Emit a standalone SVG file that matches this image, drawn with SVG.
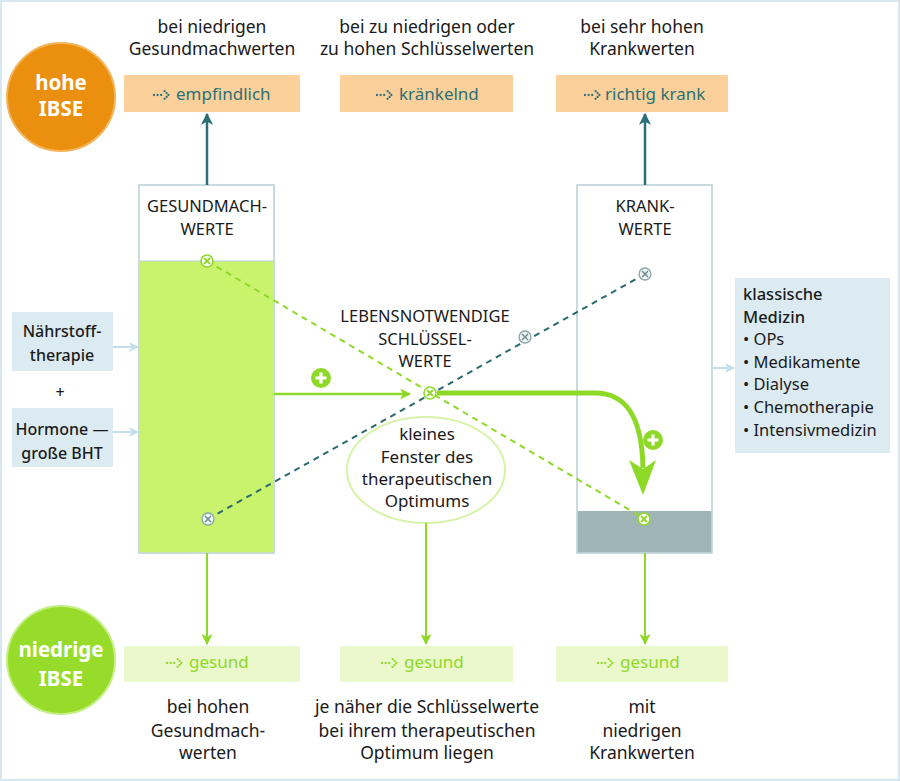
<svg xmlns="http://www.w3.org/2000/svg" width="900" height="781" viewBox="0 0 900 781">
<style>
text{font-family:"Noto Sans","Open Sans","DejaVu Sans",sans-serif;fill:#1a1a1a}
.h{font-size:17.5px;text-anchor:middle}
.cap{font-size:16.5px;text-anchor:middle}
.lbl{font-size:17px}
.teal{fill:#2b7076}
.grn{fill:#8ed928}
.wh{fill:#fff;font-weight:bold;font-size:20.5px;text-anchor:middle}
.lb{font-size:16px;text-anchor:middle;font-weight:500}
.med{font-size:16.5px}
.el{font-size:17px;text-anchor:middle}
</style>
<defs>
<g id="dots">
<circle cx="0" cy="0" r="1.15"/><circle cx="3.6" cy="0" r="1.15"/><circle cx="7.2" cy="0" r="1.15"/>
<circle cx="10.6" cy="-3.8" r="1.15"/><circle cx="12.6" cy="-1.9" r="1.15"/><circle cx="14.4" cy="0" r="1.15"/><circle cx="12.6" cy="1.9" r="1.15"/><circle cx="10.6" cy="3.8" r="1.15"/>
</g>
<marker id="aGrn" viewBox="0 0 10 10" refX="9" refY="5" markerWidth="11" markerHeight="11" orient="auto" markerUnits="userSpaceOnUse">
<path d="M0,0 L10,5 L0,10 L2.5,5 z" fill="#8ed928"/>
</marker>
<marker id="aTeal2" viewBox="0 0 10 10" refX="9" refY="5" markerWidth="12" markerHeight="12" orient="auto" markerUnits="userSpaceOnUse">
<path d="M0,0 L10,5 L0,10 L2.5,5 z" fill="#2b7076"/>
</marker>
<marker id="aBlue" viewBox="0 0 10 10" refX="9" refY="5" markerWidth="10" markerHeight="10" orient="auto" markerUnits="userSpaceOnUse">
<path d="M0,0 L10,5 L0,10 L2.5,5 z" fill="#c3dfe9"/>
</marker>
<g id="mg"><circle r="6" fill="#fff" stroke="#8ed928" stroke-width="1.6"/><path d="M-3,-3 L3,3 M3,-3 L-3,3" stroke="#8ed928" stroke-width="1.8"/></g>
<g id="mt"><circle r="6" fill="#eef3f3" stroke="#8aa6a8" stroke-width="1.3"/><path d="M-3,-3 L3,3 M3,-3 L-3,3" stroke="#6f8f92" stroke-width="1.5"/></g>
<g id="plus"><circle r="10" fill="#8ed928"/><path d="M-5.5,0 H5.5 M0,-5.5 V5.5" stroke="#fff" stroke-width="3.2"/></g>
</defs>
<rect x="0" y="0" width="900" height="781" fill="#fff"/>
<rect x="1" y="1" width="898" height="779" fill="none" stroke="#d8e8ef" stroke-width="2"/>

<g id="circle-hohe">
<circle cx="61" cy="97" r="54" fill="#ea8f0e" stroke="#f3b45a" stroke-width="2"/>
<text class="wh" x="61" y="90">hohe</text>
<text class="wh" x="61" y="116">IBSE</text>
</g>
<g id="circle-niedrige">
<circle cx="61" cy="660" r="54" fill="#97dc2a" stroke="#c5ef85" stroke-width="2"/>
<text class="wh" x="61" y="657">niedrige</text>
<text class="wh" x="61" y="686">IBSE</text>
</g>

<g id="head1"><text class="h" x="212" y="33">bei niedrigen</text><text class="h" x="212" y="55">Gesundmachwerten</text></g>
<g id="head2"><text class="h" x="427" y="33">bei zu niedrigen oder</text><text class="h" x="427" y="55">zu hohen Schlüsselwerten</text></g>
<g id="head3"><text class="h" x="642" y="33">bei sehr hohen</text><text class="h" x="642" y="55">Krankwerten</text></g>

<g id="box-empfindlich"><rect x="124" y="75" width="176" height="37" fill="#fbd09a"/><use href="#dots" x="154" y="95" fill="#2b7076"/><text class="lbl teal" x="176" y="100">empfindlich</text></g>
<g id="box-kraenkelnd"><rect x="340" y="75" width="173" height="37" fill="#fbd09a"/><use href="#dots" x="377" y="95" fill="#2b7076"/><text class="lbl teal" x="399" y="100">kränkelnd</text></g>
<g id="box-krank"><rect x="556" y="75" width="172" height="37" fill="#fbd09a"/><use href="#dots" x="585" y="95" fill="#2b7076"/><text class="lbl teal" x="605" y="100">richtig krank</text></g>

<g id="col-gesund">
<rect x="139" y="185" width="135" height="368" fill="#fff" stroke="#b7cfd2" stroke-width="1.5"/>
<rect x="139.75" y="261" width="133.5" height="291.25" fill="#c9f36c"/>
<line x1="139" y1="261" x2="274" y2="261" stroke="#b7cfd2" stroke-width="1"/>
<text class="cap" x="207" y="212">GESUNDMACH-</text>
<text class="cap" x="207" y="235">WERTE</text>
</g>
<g id="col-krank">
<rect x="577" y="185" width="135" height="368" fill="#fff" stroke="#b7cfd2" stroke-width="1.5"/>
<rect x="577.75" y="511" width="133.5" height="41.25" fill="#9fb4b4"/>
<text class="cap" x="645" y="212">KRANK-</text>
<text class="cap" x="645" y="235">WERTE</text>
</g>

<g id="label-schluessel">
<text class="cap" x="425" y="322">LEBENSNOTWENDIGE</text>
<text class="cap" x="425" y="345">SCHLÜSSEL-</text>
<text class="cap" x="425" y="367">WERTE</text>
</g>

<g id="ellipse-fenster">
<ellipse cx="426" cy="470" rx="79" ry="53" fill="#fff" stroke="#d6f3a8" stroke-width="2"/>
<text class="el" x="427" y="440">kleines</text>
<text class="el" x="427" y="463">Fenster des</text>
<text class="el" x="427" y="485">therapeutischen</text>
<text class="el" x="427" y="507">Optimums</text>
</g>

<g id="box-naehrstoff"><rect x="12" y="312" width="101" height="59" fill="#dcebf2"/><text class="lb" x="62" y="337">Nährstoff-</text><text class="lb" x="62" y="361">therapie</text></g>
<g id="plus-sign"><text class="lb" x="60" y="398">+</text></g>
<g id="box-hormone"><rect x="12" y="408" width="101" height="59" fill="#dcebf2"/><text class="lb" x="62" y="435">Hormone —</text><text class="lb" x="62" y="459">große BHT</text></g>

<g id="box-klassisch">
<rect x="735" y="278" width="155" height="175" fill="#dcebf2"/>
<text class="med" x="743" y="300" style="font-weight:500">klassische</text>
<text class="med" x="743" y="323" style="font-weight:500">Medizin</text>
<text class="med" x="743" y="345">• OPs</text>
<text class="med" x="743" y="368">• Medikamente</text>
<text class="med" x="743" y="390">• Dialyse</text>
<text class="med" x="743" y="413">• Chemotherapie</text>
<text class="med" x="743" y="436">• Intensivmedizin</text>
</g>

<g id="box-gesund1"><rect x="124" y="646" width="176" height="36" fill="#eaf8cb"/><use href="#dots" x="167" y="663" fill="#8ed928"/><text class="lbl grn" x="189" y="668">gesund</text></g>
<g id="box-gesund2"><rect x="340" y="646" width="173" height="36" fill="#eaf8cb"/><use href="#dots" x="382" y="663" fill="#8ed928"/><text class="lbl grn" x="404" y="668">gesund</text></g>
<g id="box-gesund3"><rect x="556" y="646" width="172" height="36" fill="#eaf8cb"/><use href="#dots" x="598" y="663" fill="#8ed928"/><text class="lbl grn" x="620" y="668">gesund</text></g>

<g id="foot1"><text class="h" x="208" y="713">bei hohen</text><text class="h" x="208" y="737">Gesundmach-</text><text class="h" x="208" y="759">werten</text></g>
<g id="foot2"><text class="h" x="427" y="713">je näher die Schlüsselwerte</text><text class="h" x="427" y="737">bei ihrem therapeutischen</text><text class="h" x="427" y="759">Optimum liegen</text></g>
<g id="foot3"><text class="h" x="642" y="713">mit</text><text class="h" x="642" y="737">niedrigen</text><text class="h" x="642" y="759">Krankwerten</text></g>

<g id="connectors" fill="none">
<line x1="207" y1="185" x2="207" y2="114" stroke="#2b7076" stroke-width="2.5" marker-end="url(#aTeal2)"/>
<line x1="645" y1="185" x2="645" y2="114" stroke="#2b7076" stroke-width="2.5" marker-end="url(#aTeal2)"/>
<line x1="207" y1="553" x2="207" y2="644" stroke="#8ed928" stroke-width="2" marker-end="url(#aGrn)"/>
<line x1="426" y1="523" x2="426" y2="644" stroke="#8ed928" stroke-width="2" marker-end="url(#aGrn)"/>
<line x1="645" y1="553" x2="645" y2="644" stroke="#8ed928" stroke-width="2" marker-end="url(#aGrn)"/>
<line x1="113" y1="347" x2="138" y2="347" stroke="#c3dfe9" stroke-width="2" marker-end="url(#aBlue)"/>
<line x1="113" y1="432" x2="138" y2="432" stroke="#c3dfe9" stroke-width="2" marker-end="url(#aBlue)"/>
<line x1="713" y1="368" x2="734" y2="368" stroke="#c3dfe9" stroke-width="2" marker-end="url(#aBlue)"/>
<line x1="207" y1="261" x2="645" y2="519" stroke="#8ed928" stroke-width="2" stroke-dasharray="6 5"/>
<line x1="208" y1="519" x2="645" y2="274" stroke="#2b6a6e" stroke-width="2" stroke-dasharray="6 5"/>
<line x1="274" y1="394" x2="410" y2="394" stroke="#8ed928" stroke-width="2.5" marker-end="url(#aGrn)"/>
<path d="M437,393 L595,393 C625,393 642,415 643,468" stroke="#8ed928" stroke-width="5"/>
<path d="M629,460 L643,469 L656,460 L643,495 z" fill="#8ed928"/>
<use href="#plus" x="321" y="378"/>
<use href="#plus" x="653" y="440"/>
<use href="#mg" x="207" y="261"/>
<use href="#mg" x="644" y="519"/>
<use href="#mg" x="430" y="393"/>
<use href="#mt" x="208" y="519"/>
<use href="#mt" x="645" y="274"/>
<use href="#mt" x="525" y="337"/>
</g>
</svg>
